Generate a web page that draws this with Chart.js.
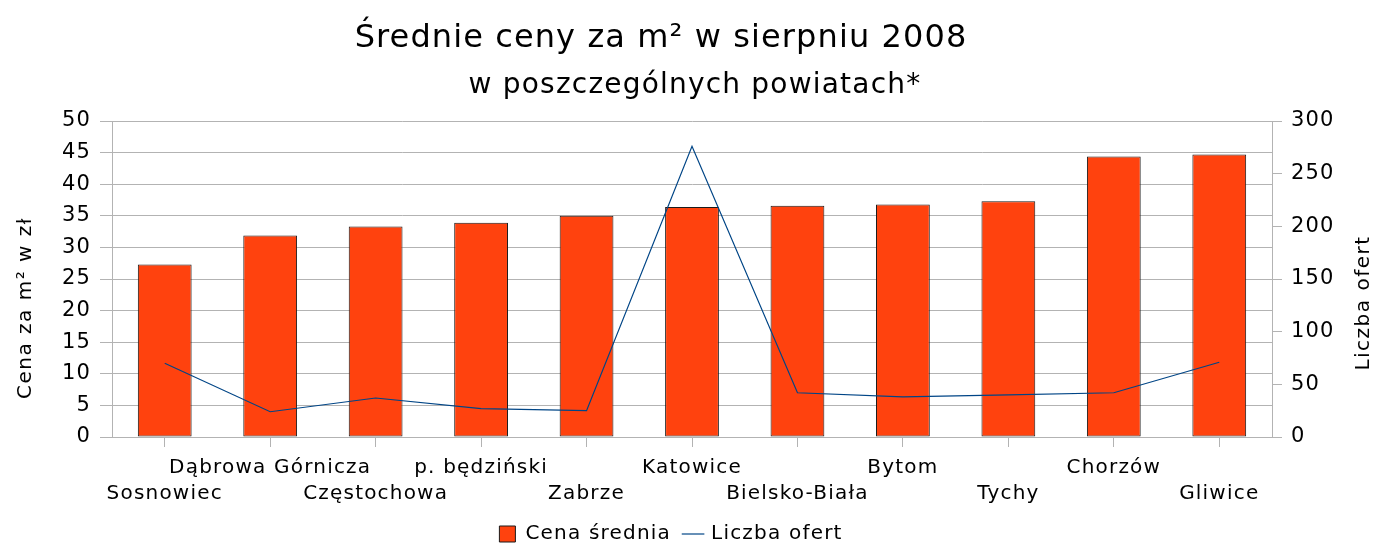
<!DOCTYPE html>
<html lang="pl">
<head>
<meta charset="utf-8">
<title>Średnie ceny za m² w sierpniu 2008</title>
<script src="https://cdn.jsdelivr.net/npm/chart.js@4.4.1/dist/chart.umd.min.js"></script>
<style>
  html, body { margin: 0; padding: 0; background: #fff; }
</style>
</head>
<body>
<canvas id="chart" width="1376" height="543"></canvas>
<script>
// ── dane ────────────────────────────────────────────────────────────────────
const POWIATY = ['Sosnowiec', 'Dąbrowa Górnicza', 'Częstochowa', 'p. będziński', 'Zabrze',
  'Katowice', 'Bielsko-Biała', 'Bytom', 'Tychy', 'Chorzów', 'Gliwice'];
const CENA_SREDNIA = [27.3, 31.9, 33.3, 33.9, 35.0, 36.4, 36.6, 36.8, 37.3, 44.4, 44.7];
const LICZBA_OFERT = [70, 24, 37, 27, 25, 276, 42, 38, 40, 42, 71];
const TICKI_CENA = [0, 5, 10, 15, 20, 25, 30, 35, 40, 45, 50];
const TICKI_OFERTY = [0, 50, 100, 150, 200, 250, 300];

const TYTUL = 'Średnie ceny za m² w sierpniu 2008';
const PODTYTUL = 'w poszczególnych powiatach*';
const OS_LEWA = 'Cena za m² w zł';
const OS_PRAWA = 'Liczba ofert';

const FONT = '"DejaVu Sans", sans-serif';
const SZARY = '#b3b3b3';
const ODSTEP = '1.2px'; // oryginał ma wyraźnie rozstrzelone litery w etykietach

// Rozstrzelenie liter — ustawiane przed pomiarem (update) i przed rysowaniem,
// bo zmiana rozmiaru canvasu kasuje stan kontekstu.
// Legenda w oryginale jest lekko przesunięta w lewo względem środka.
const rozstrzelenie = {
  id: 'rozstrzelenie',
  beforeUpdate(chart) { chart.ctx.letterSpacing = ODSTEP; },
  afterLayout(chart) {
    chart.legend.left -= 17;
    chart.legend.right -= 17;
  },
  beforeDraw(chart) { chart.ctx.letterSpacing = ODSTEP; }
};

// Tytuły rysowane ręcznie: podtytuł nie jest wyśrodkowany z tytułem, a prawa oś
// ma tytuł czytany od dołu do góry (Chart.js obraca go w drugą stronę).
const naglowki = {
  id: 'naglowki',
  afterDraw(chart) {
    const ctx = chart.ctx;
    ctx.save();
    ctx.fillStyle = '#000';
    ctx.textAlign = 'center';
    ctx.textBaseline = 'middle';
    ctx.letterSpacing = '1.1px';
    ctx.font = '32px ' + FONT;
    ctx.fillText(TYTUL, 661, 39);
    ctx.letterSpacing = '1.2px';
    ctx.font = '28px ' + FONT;
    ctx.fillText(PODTYTUL, 695, 86);

    ctx.letterSpacing = '1.5px';
    ctx.font = '20px ' + FONT;
    ctx.save();
    ctx.translate(26, 308);
    ctx.rotate(-Math.PI / 2);
    ctx.fillText(OS_LEWA, 0, 0);
    ctx.restore();
    ctx.save();
    ctx.translate(1364, 303);
    ctx.rotate(-Math.PI / 2);
    ctx.fillText(OS_PRAWA, 0, 0);
    ctx.restore();
    ctx.restore();
  }
};

new Chart(document.getElementById('chart'), {
  type: 'bar',
  data: {
    labels: POWIATY,
    datasets: [
      {
        label: 'Cena średnia',
        data: CENA_SREDNIA,
        yAxisID: 'y',
        backgroundColor: '#ff420e',
        borderColor: '#1a1a1a',
        borderWidth: 1,
        borderSkipped: false,
        categoryPercentage: 1,
        barPercentage: 0.51,
        pointStyle: 'rect',
        order: 2
      },
      {
        type: 'line',
        label: 'Liczba ofert',
        data: LICZBA_OFERT,
        yAxisID: 'y1',
        borderColor: '#004586',
        backgroundColor: '#004586',
        borderWidth: 1.2,
        pointRadius: 0,
        pointStyle: 'line',
        tension: 0,
        order: 1
      }
    ]
  },
  options: {
    responsive: false,
    animation: false,
    layout: { padding: { top: 121, left: 0, right: 0, bottom: -11 } },
    plugins: {
      tooltip: { enabled: false },
      legend: {
        position: 'bottom',
        labels: {
          usePointStyle: true,
          boxWidth: 16,
          boxHeight: 16,
          padding: 14,
          color: '#000',
          font: { family: FONT, size: 20 },
          sort: (a, b) => a.datasetIndex - b.datasetIndex
        }
      }
    },
    scales: {
      x: {
        offset: true,
        afterFit: s => { s.height = 73; },
        border: { display: true, color: SZARY },
        grid: { offset: false, drawOnChartArea: false, drawTicks: true, tickLength: 10, color: SZARY },
        ticks: {
          autoSkip: false,
          maxRotation: 0,
          minRotation: 0,
          padding: 8,
          color: '#000',
          font: { family: FONT, size: 20, lineHeight: 1.3 },
          // etykiety na przemian w dwóch rzędach
          callback: function (v, i) {
            const t = this.getLabelForValue(v);
            return i % 2 === 0 ? ['', t] : [t, ''];
          }
        }
      },
      y: {
        position: 'left',
        min: TICKI_CENA[0],
        max: TICKI_CENA[TICKI_CENA.length - 1],
        afterFit: s => { s.width = 112; },
        afterBuildTicks: s => { s.ticks = TICKI_CENA.map(v => ({ value: v })); },
        border: { display: true, color: SZARY },
        grid: { color: SZARY, tickLength: 12 },
        ticks: { padding: 9, color: '#000', font: { family: FONT, size: 21 } }
      },
      y1: {
        position: 'right',
        min: TICKI_OFERTY[0],
        max: TICKI_OFERTY[TICKI_OFERTY.length - 1],
        afterFit: s => { s.width = 104; },
        afterBuildTicks: s => { s.ticks = TICKI_OFERTY.map(v => ({ value: v })); },
        border: { display: true, color: SZARY },
        grid: { drawOnChartArea: false, color: SZARY, tickLength: 10 },
        ticks: { padding: 9, color: '#000', font: { family: FONT, size: 21 } }
      }
    }
  },
  plugins: [rozstrzelenie, naglowki]
});
</script>
</body>
</html>
